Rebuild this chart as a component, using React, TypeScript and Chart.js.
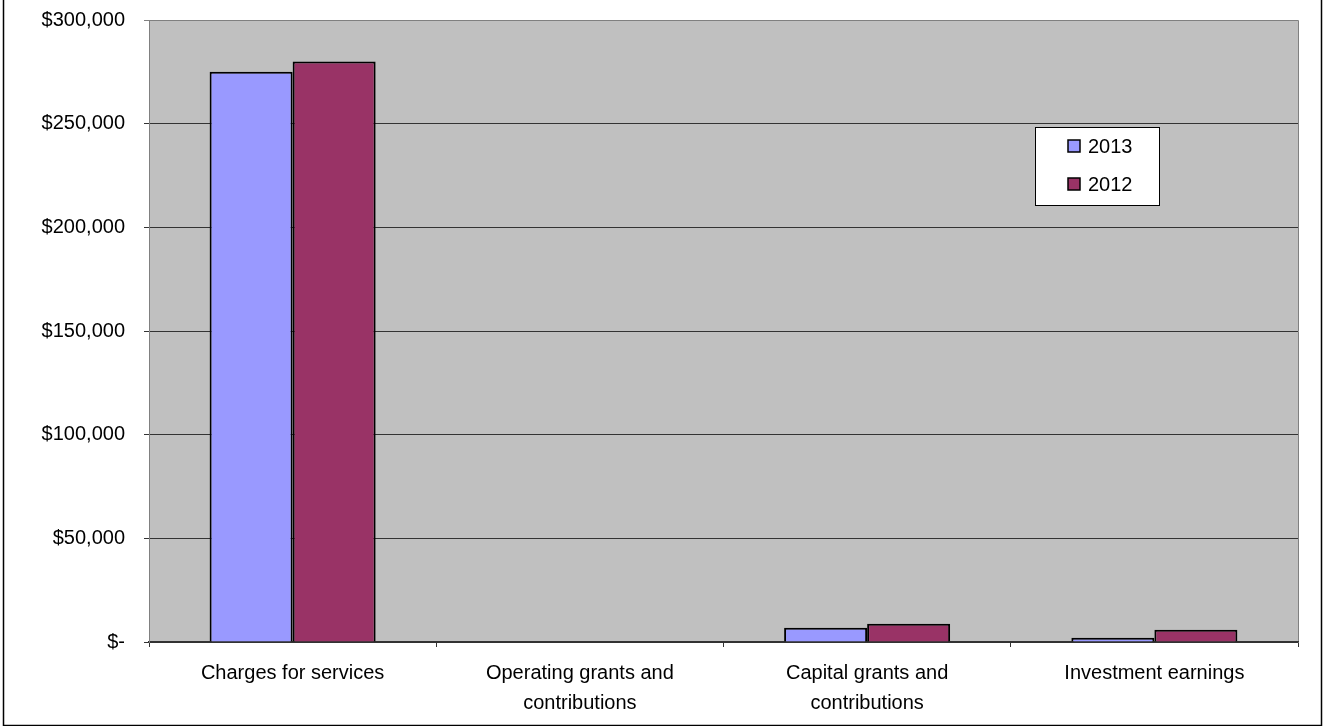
import React, { useEffect, useRef } from "react";
import { Chart, registerables } from "chart.js";

Chart.register(...registerables);

const categories: (string | string[])[] = [
  "Charges for services",
  ["Operating grants and", "contributions"],
  ["Capital grants and", "contributions"],
  "Investment earnings",
];
const series2013 = [275000, 0, 6900, 2000];
const series2012 = [280000, 0, 8800, 5900];
const yTickValues = [0, 50000, 100000, 150000, 200000, 250000, 300000];

const FONT = "'Liberation Sans', Arial, sans-serif";
const FSIZE = 20;

const fmt = (v: number) =>
  v === 0 ? "$-" : "$" + v.toLocaleString("en-US");

const framePlugin = {
  id: "frame",
  beforeDraw(chart: any) {
    const { ctx, chartArea } = chart;
    ctx.save();
    ctx.fillStyle = "#ffffff";
    ctx.fillRect(0, 0, chart.width, chart.height);
    ctx.fillStyle = "#C0C0C0";
    ctx.fillRect(chartArea.left, chartArea.top, chartArea.right - chartArea.left, chartArea.bottom - chartArea.top);
    ctx.strokeStyle = "#808080";
    ctx.lineWidth = 1;
    ctx.beginPath();
    ctx.moveTo(chartArea.left, chartArea.top + 0.5);
    ctx.lineTo(chartArea.right + 0.5, chartArea.top + 0.5);
    ctx.lineTo(chartArea.right + 0.5, chartArea.bottom);
    ctx.stroke();
    ctx.restore();
  },
  afterDraw(chart: any) {
    const { ctx } = chart;
    ctx.save();
    // outer frame
    ctx.strokeStyle = "#000";
    ctx.lineWidth = 1.5;
    ctx.strokeRect(3.5, -5, 1318, 730.5);
    // legend
    const lx = 1035, ly = 127, lw = 124, lh = 78;
    ctx.fillStyle = "#fff";
    ctx.fillRect(lx, ly, lw, lh);
    ctx.strokeStyle = "#000";
    ctx.lineWidth = 1;
    ctx.strokeRect(lx + 0.5, ly + 0.5, lw, lh);
    ctx.font = FSIZE + "px " + FONT;
    ctx.textBaseline = "middle";
    ctx.textAlign = "left";
    const rows = [146, 184];
    chart.data.datasets.forEach((ds: any, i: number) => {
      const cy = rows[i];
      ctx.fillStyle = ds.backgroundColor;
      ctx.fillRect(1068, cy - 6, 12, 12);
      ctx.strokeStyle = "#000";
      ctx.lineWidth = 1.5;
      ctx.strokeRect(1068, cy - 6, 12, 12);
      ctx.fillStyle = "#000";
      ctx.fillText(ds.label, 1088, cy + 1);
    });
    ctx.restore();
  },
};

export default function App() {
  const ref = useRef<HTMLCanvasElement>(null);
  useEffect(() => {
    document.body.style.margin = "0";
    const chart = new Chart(ref.current!, {
      type: "bar",
      data: {
        labels: categories as any,
        datasets: [
          {
            label: "2013",
            data: series2013,
            backgroundColor: "#9999FF",
            borderColor: "#000",
            borderWidth: 2,
            barPercentage: 1,
            categoryPercentage: 0.578,
          },
          {
            label: "2012",
            data: series2012,
            backgroundColor: "#993366",
            borderColor: "#000",
            borderWidth: 2,
            barPercentage: 1,
            categoryPercentage: 0.578,
          },
        ],
      },
      options: {
        animation: false,
        responsive: false,
        layout: { padding: { left: 0, top: 20, right: 33, bottom: 0 } },
        plugins: { legend: { display: false }, tooltip: { enabled: false } },
        scales: {
          x: {
            grid: {
              drawOnChartArea: false,
              drawTicks: true,
              tickLength: 5,
              color: "#333",
              offset: true,
            },
            border: { color: "#333", width: 1.5 },
            ticks: {
              color: "#000",
              padding: 11,
              font: { family: FONT, size: FSIZE, lineHeight: 1.5 },
              maxRotation: 0,
              autoSkip: false,
            },
            afterFit(scale: any) {
              scale.height = 84;
            },
          },
          y: {
            min: 0,
            max: 300000,
            afterBuildTicks(scale: any) {
              scale.ticks = yTickValues.map((v) => ({ value: v }));
            },
            grid: {
              color: (c: any) => (c.tick && c.tick.value === 300000 ? "#808080" : "#333"),
              tickLength: 5,
              lineWidth: 1,
            },
            border: { color: "#808080", width: 1 },
            ticks: {
              color: "#000",
              padding: 19,
              font: { family: FONT, size: FSIZE },
              callback: (v: any) => fmt(Number(v)),
            },
            afterFit(scale: any) {
              scale.width = 149;
              scale.paddingTop = 0;
              scale.paddingBottom = 0;
            },
          },
        },
      },
      plugins: [framePlugin],
    });
    return () => chart.destroy();
  }, []);
  return <canvas ref={ref} width={1331} height={726} style={{ display: "block" }} />;
}
